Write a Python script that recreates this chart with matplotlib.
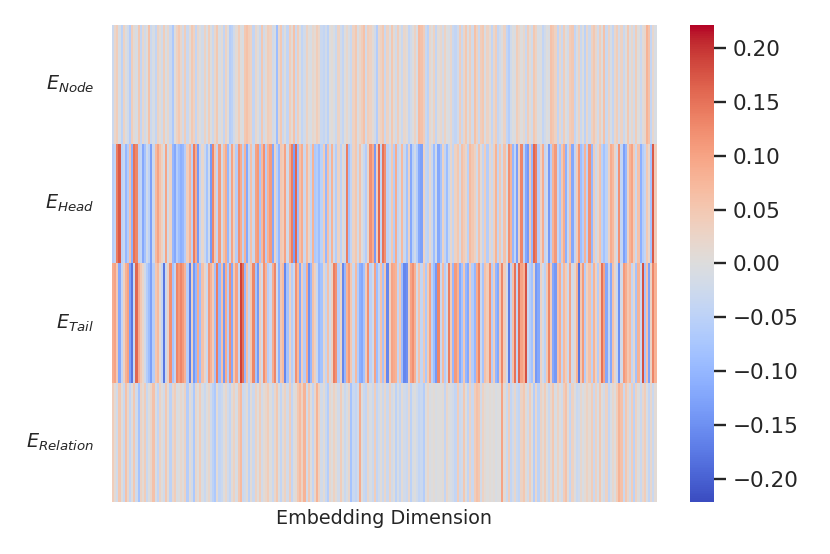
import numpy as np
import pandas as pd
import matplotlib
matplotlib.use("Agg")
import matplotlib.pyplot as plt
import seaborn as sns

# values, in hundredths, 256 dimensions per row
node = [-3, 2, 4, -1, -5, 3, 0, -2, -6, 4, 1, -1, 5, -4, 2, -2, 0, 6, -3, -1, -4, 3, 1, -2, 4, -1, 2, -3, -7, 0, 3, 5,
        2, -2, 4, -3, 1, 5, 3, -4, 2, 0, -2, 3, -1, 4, 0, -3, 2, 5, -1, 1, -4, 3, 0, -6, -5, -2, 1, 4, 0, -1, 5, 6,
        4, 3, -4, 2, 0, -3, 5, -2, 1, 4, 3, -2, -1, -9, 2, 5, -3, 0, -4, 4, 1, 6, -3, 4, 0, -4, -2, 3, 0, -1, 2, 1,
        4, 2, -3, -4, -2, -5, 0, 1, -1, -3, 3, -2, -4, 0, 2, -1, -3, 3, 5, -1, 2, 4, 6, -2, 4, 3, 1, -2, -6, 2, 3, 5,
        -3, 3, -1, 5, 1, -2, 4, 0, -3, 2, 1, -4, -2, 0, 3, -1, 7, 6, 4, -3, -5, 2, 0, 3, -4, 1, 2, -2, 3, 0, -1, 2,
        -3, -4, -2, 4, -3, 2, 5, -1, 4, -2, 6, 3, -3, 4, 5, -1, 3, 1, -4, 2, 4, -4, -2, 0, 3, -4, -6, -2, 0, -1, 4, 2,
        0, 2, -3, 4, 1, -2, 5, 3, -1, 0, -4, -2, 0, -1, 6, 5, 3, -4, 2, -3, 4, 0, -2, 4, 5, -4, -1, 3, -3, 0, -5, 2,
        -3, 3, 5, 2, -2, 4, 0, 6, -3, 3, -1, -4, 2, 4, -2, 3, -3, 0, 5, -1, 2, -2, 4, 0, -3, 1, 2, 8, 6, -4, 2, -1]

head = [-6, -4, 14, 17, -5, -3, -10, -6, 6, -11, 15, 13, -5, -4, -12, -8, -2, -5, -13, -3, 7, 10, 6, 3, -1, 10, -2, 3, -10, -12, -6, -9,
        -11, -10, -6, 4, 8, -5, 14, 9, -14, -4, 2, -3, -8, -2, -14, 13, 5, -4, 11, -2, 6, 9, -10, -3, 10, 3, -6, 12, 9, -5, 8, -12,
        -4, 6, -3, 10, 11, -8, 7, 12, -6, 8, 11, -12, 3, -5, -10, 5, 4, 10, -2, 9, 14, -13, 16, -9, 6, 9, -3, 7, 2, -4, 8, -7,
        -6, -9, -5, 4, -10, 6, -3, 8, -2, -6, 3, -5, 1, -2, 14, -8, -4, 3, 5, -2, 6, 0, -3, -6, 2, 12, 9, -14, 4, 16, -4, 15,
        12, -5, -3, 5, -6, 9, -4, -2, 7, -3, -8, 3, -12, -5, -2, -6, -12, -13, 3, -4, -5, 2, -3, -9, -2, -12, -8, 3, -4, -9, -3, 2,
        -4, 3, 5, -2, 6, 4, 2, -5, 7, 5, 3, -2, 6, 1, -4, 4, -6, 2, -3, 3, 8, -4, 5, -2, 6, -1, 12, 8, -10, -4, -13, 3,
        13, -5, -12, -14, 5, -10, 16, 14, -6, 3, 9, -4, -2, -14, -6, 8, 11, -4, -8, 5, 9, -11, -3, 6, -12, -4, 4, 11, -9, -6, 8, -5,
        12, -10, 4, -3, 2, 6, -5, -8, -5, 3, 9, 7, 2, -2, 12, -4, -13, -10, 3, 8, 10, 4, -3, 6, -11, -6, -4, 5, 2, -8, 17, 4]

tail = [9, 10, 5, -12, -4, 3, 8, 10, -13, -18, -3, 16, 9, 5, 2, -2, -6, -9, -13, -6, 5, 7, 1, -4, -18, -3, 3, 12, -8, -4, 13, 11,
        13, 11, 8, -6, -17, 3, -14, -10, 9, -9, 6, 2, -3, 11, 8, 4, -8, 14, -10, 6, -14, 9, -6, 12, -12, 5, 10, -4, 19, 15, -10, 6,
        -4, 5, 13, -8, -14, 4, -2, 12, 8, -6, -3, 9, 13, -2, -11, 5, 7, -16, -8, 3, -6, -3, 12, 7, -12, 4, -6, 9, -15, -10, 6, 3,
        -3, -10, -8, 2, -4, 6, -2, 3, 14, 12, -6, 2, -16, -10, 8, 11, 5, -3, 7, -6, -11, -12, -8, 4, 12, -5, -2, 10, -9, -4, 6, -8,
        5, -16, 3, 10, 9, 8, -4, 5, -9, -16, -15, 3, 10, 12, 8, -2, 6, -4, 5, -7, 4, 10, -5, -9, -14, 13, -3, 7, -6, -2, 14, 4,
        -10, 11, 8, -12, -8, 5, -10, -12, 4, -6, -10, 9, 13, -3, -8, 6, 4, 12, -6, 4, -10, -12, 5, 13, 4, -2, -17, -5, 6, 15, -4, 16,
        10, 8, 18, -3, -6, -8, 2, -14, -12, 3, -2, -5, 5, 13, 4, -12, -14, 6, 9, -4, 7, 4, -3, 10, -2, 2, 8, -18, 5, 11, -6, 3,
        6, -5, 8, 3, -6, 4, 15, 10, -12, -4, -12, 6, 2, -3, -15, -2, 11, 9, 5, 7, -4, 2, -8, 8, -3, 18, -8, 6, -13, 3, 13, 8]

relation = [4, 1, -2, 5, 0, -3, 6, 2, -4, 0, 5, -2, -8, 3, 1, 4, -3, 0, 2, 6, -1, -4, 3, 0, -2, 5, 1, -5, 2, 4, -1, 0,
            2, 0, 3, -6, 1, -2, -7, 2, 0, 4, -1, -3, 0, 2, -2, -5, -7, 1, -4, -3, 0, 2, -2, -4, 1, 3, -1, 5, 7, -3, -2, 1,
            -5, 1, -3, 3, 0, 4, -2, 1, 2, 4, 0, -3, 2, 5, -1, -4, 1, 3, -2, 4, -4, 0, 1, 5, 7, 3, 8, -2, 5, 0, -4, 2,
            8, 3, -2, 1, -3, -6, 2, 0, 3, 1, -2, 4, 0, -3, -1, 2, -8, -3, -4, -2, 9, 0, -3, -4, 2, -1, -3, 4, -4, -2, 1, -3,
            2, -3, 3, -2, 0, -5, -1, -4, 1, -2, -3, 2, -5, -1, 0, -2, -4, -3, -6, 0, 2, -1, 0, 1, -1, 0, 0, 1, -4, 2, 0, -1,
            -2, -4, 4, -3, -2, 5, 0, -4, 3, -3, 4, 6, 5, -2, 3, 1, 0, 1, 0, 1, -1, 0, 0, 10, 1, -3, 4, -4, -2, 2, -3, -4,
            3, 5, 1, -2, 4, 0, -6, 2, -5, 3, 1, 4, 0, -3, 2, 5, -1, 3, 0, -2, 4, 6, 1, -4, 3, 0, -3, -2, 2, -1, 1, 3,
            1, 4, -3, 3, -1, 5, 0, -2, 3, -4, -1, 2, 0, 4, 8, 6, -3, 5, 2, -2, 4, -5, 3, 0, -3, 2, 4, -1, -4, 2, -3, 1]

row_labels = [r"$E_{Node}$", r"$E_{Head}$", r"$E_{Tail}$", r"$E_{Relation}$"]
cbar_ticks = [-0.20, -0.15, -0.10, -0.05, 0.00, 0.05, 0.10, 0.15, 0.20]

sns.set_theme(style="white")

data = pd.DataFrame([node, head, tail, relation], index=row_labels) / 100.0

fig = plt.figure(figsize=(8.3, 5.54), dpi=100)
ax = fig.add_axes([0.135, 0.094, 0.656, 0.861])
cax = fig.add_axes([0.831, 0.094, 0.029, 0.861])

sns.heatmap(data, ax=ax, cbar_ax=cax, cmap="coolwarm", vmin=-0.2216, vmax=0.2216,
            xticklabels=False, yticklabels=row_labels)

ax.set_yticklabels(row_labels, rotation=0, fontsize=13.8, color=".15")
ax.tick_params(axis="y", length=0, pad=13)
ax.set_xlabel("Embedding Dimension", fontsize=13.8, color=".15", labelpad=5)

cax.set_yticks(cbar_ticks)
cax.set_yticklabels([f"{t:.2f}".replace("-", "\u2212") for t in cbar_ticks])
cax.tick_params(axis="y", right=True, length=8.3, width=1.7, labelsize=15.5,
                colors=".15", pad=5)

fig.savefig("out.png", dpi=100)
